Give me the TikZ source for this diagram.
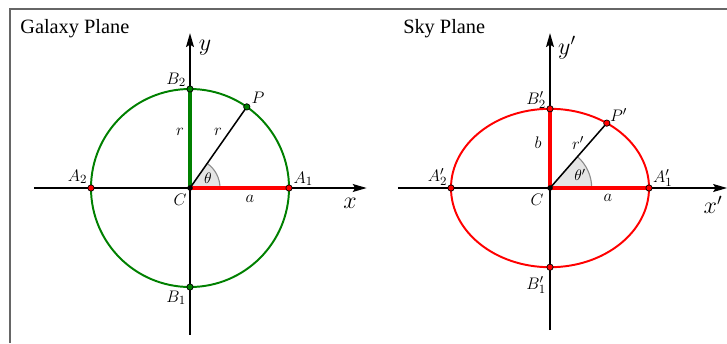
\documentclass[tikz,border=0pt]{standalone}
\usepackage{fontspec}
\newfontfamily\titlefont{Liberation Serif}
\usetikzlibrary{arrows.meta,calc}

\begin{document}
\begin{tikzpicture}[
  axis/.style={-{Stealth[length=3.5mm,width=2mm,inset=0.6mm]}, line width=1pt},
  orbit/.style={line width=1.4pt},
  arm/.style={line width=2.3pt},
  radial/.style={line width=1.1pt},
  dot/.style={circle, draw=black, line width=0.5pt, inner sep=0pt, minimum size=0.16cm},
  lbl/.style={font=\fontsize{13}{15}\selectfont, inner sep=0pt},
  axlbl/.style={font=\LARGE, inner sep=0pt},
  anglbl/.style={font=\fontsize{11}{13}\selectfont, inner sep=0pt},
  title/.style={font=\titlefont\fontsize{14.6}{17}\selectfont, anchor=base west, inner sep=0pt},
  wedge/.style={fill=gray!20},
  wedgearc/.style={draw=gray!90, line width=0.8pt},
]
\useasboundingbox (-4.7975,-3.914) rectangle (13.559,4.747);
\draw[black!60, line width=0.8pt] (-4.545,-3.914) |- (13.559,4.52);

% galaxy plane
\node[title] (gtitle) at (-4.29,3.906) {Galaxy Plane};
\coordinate (gC) at (0,0);
\coordinate (gA1) at (0:2.5);
\coordinate (gA2) at (180:2.5);
\coordinate (gB1) at (270:2.5);
\coordinate (gB2) at (90:2.5);
\coordinate (gP) at (55:2.5);
\coordinate (gxs) at (-3.94,0);
\coordinate (gxe) at (4.46,0);
\coordinate (gys) at (0,-3.71);
\coordinate (gye) at (0,3.91);

\fill[wedge] (gC) -- (0.7575,0) arc (0:55:0.7575) -- cycle;
\draw[wedgearc] (0.7575,0) arc (0:55:0.7575);
\draw[axis] (gxs) -- (gxe);
\draw[axis] (gys) -- (gye);
\draw[orbit, green!50!black] (gC) circle (2.5);
\draw[arm, red] (gC) -- (gA1);
\draw[arm, green!50!black] (gC) -- (gB2);
\draw[radial] (gC) -- (gP);

\node[dot, fill=red] (dA1) at (gA1) {};
\node[dot, fill=red] (dA2) at (gA2) {};
\node[dot, fill=green!50!black] (dB1) at (gB1) {};
\node[dot, fill=green!50!black] (dB2) at (gB2) {};
\node[dot, fill=green!50!black] (dP) at (gP) {};
\node[dot, fill=black, minimum size=0.12cm] (dC) at (gC) {};

\node[axlbl] (lx) at (4.04,-0.379) {$x$};
\node[axlbl] (ly) at (0.379,3.535) {$y$};
\node[lbl] (lB2) at (-0.35,2.727) {$B_2$};
\node[lbl] (lB1) at (-0.35,-2.778) {$B_1$};
\node[lbl] (lA1) at (2.86,0.227) {$A_1$};
\node[lbl] (lA2) at (-2.84,0.278) {$A_2$};
\node[lbl] (lP) at (1.72,2.2725) {$P$};
\node[lbl] (lC) at (-0.2525,-0.303) {$C$};
\node[lbl] (la) at (1.515,-0.278) {$a$};
\node[lbl] (lrv) at (-0.2525,1.414) {$r$};
\node[lbl] (lrd) at (0.707,1.414) {$r$};
\node[anglbl] (lth) at (0.4545,0.2525) {$\theta$};

% sky plane
\begin{scope}[xshift=9.09cm]
\node[title] (stitle) at (-3.712,3.906) {Sky Plane};
\coordinate (sC) at (0,0);
\coordinate (sA1) at (0:2.5);
\coordinate (sA2) at (180:2.5);
\coordinate (sB1) at (0,-2);
\coordinate (sB2) at (0,2);
\coordinate (sP) at ({2.5*cos(55)},{2*sin(55)});
\coordinate (sxs) at (-3.84,0);
\coordinate (sxe) at (4.47,0);
\coordinate (sys) at (0,-3.59);
\coordinate (sye) at (0,3.91);

\fill[wedge] (sC) -- (1.053,0) arc (0:48.8:1.053) -- cycle;
\draw[wedgearc] (1.053,0) arc (0:48.8:1.053);
\draw[axis] (sxs) -- (sxe);
\draw[axis] (sys) -- (sye);
\draw[orbit, red] (sC) ellipse (2.5 and 2);
\draw[arm, red] (sC) -- (sA1);
\draw[arm, red] (sC) -- (sB2);
\draw[radial] (sC) -- (sP);

\node[dot, fill=red] (eA1) at (sA1) {};
\node[dot, fill=red] (eA2) at (sA2) {};
\node[dot, fill=red] (eB1) at (sB1) {};
\node[dot, fill=red] (eB2) at (sB2) {};
\node[dot, fill=red] (eP) at (sP) {};
\node[dot, fill=black, minimum size=0.12cm] (eC) at (sC) {};

\node[axlbl] (mx) at (4.116,-0.429) {$x'$};
\node[axlbl] (my) at (0.43,3.535) {$y'$};
\node[lbl] (mB2) at (-0.35,2.222) {$B_2'$};
\node[lbl] (mB1) at (-0.35,-2.449) {$B_1'$};
\node[lbl] (mA1) at (2.85,0.2525) {$A_1'$};
\node[lbl] (mA2) at (-2.84,0.278) {$A_2'$};
\node[lbl] (mP) at (1.73,1.843) {$P'$};
\node[lbl] (mC) at (-0.328,-0.303) {$C$};
\node[lbl] (ma) at (1.4645,-0.2525) {$a$};
\node[lbl] (mb) at (-0.303,1.136) {$b$};
\node[lbl] (mr) at (0.707,1.136) {$r'$};
\node[anglbl] (mth) at (0.7575,0.328) {$\theta'$};
\end{scope}
\end{tikzpicture}
\end{document}
